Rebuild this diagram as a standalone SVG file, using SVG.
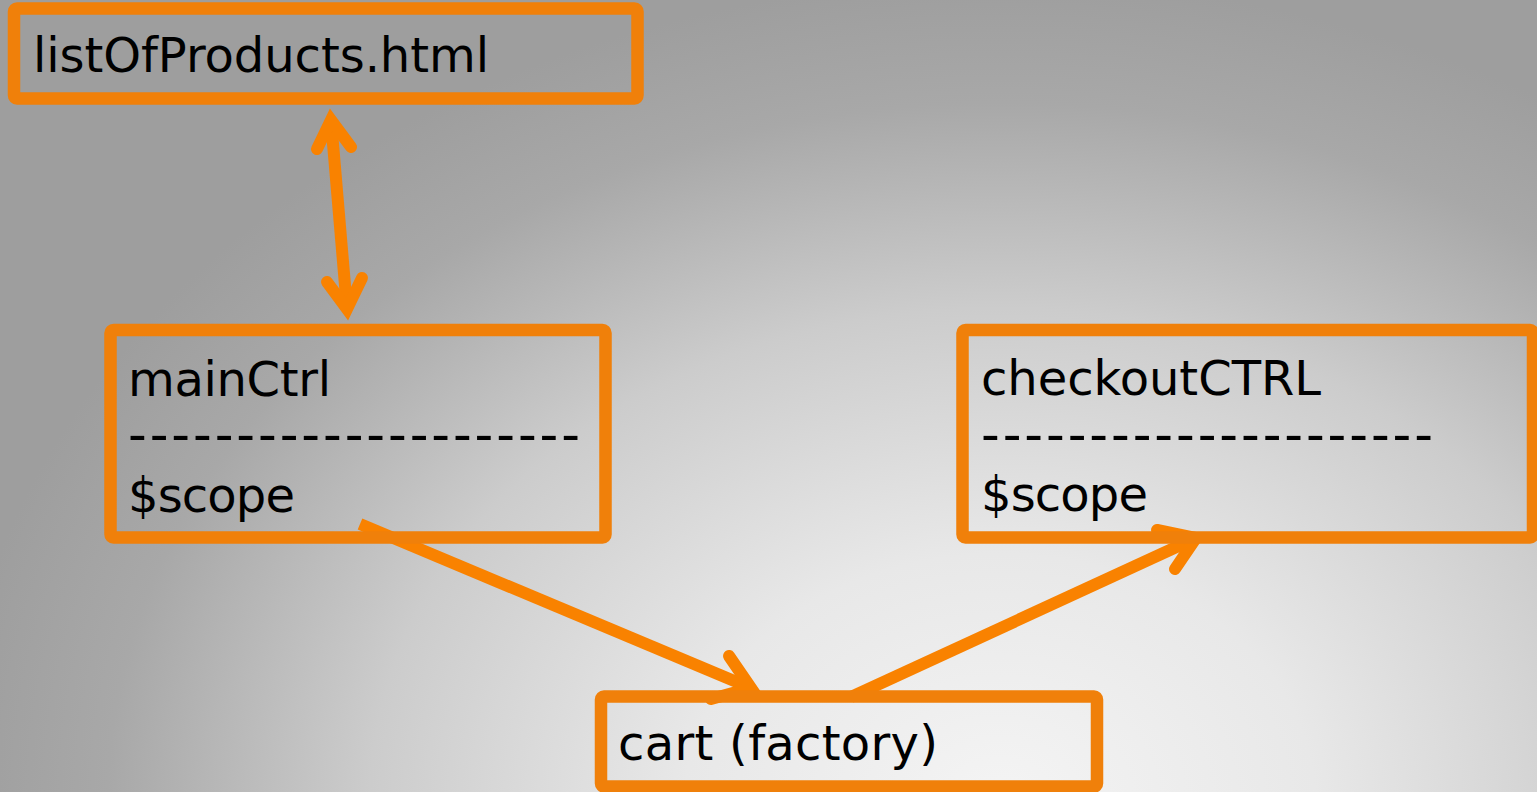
<svg xmlns="http://www.w3.org/2000/svg" width="1537" height="792" viewBox="0 0 1537 792">
  <defs>
    <radialGradient id="bg" gradientUnits="userSpaceOnUse" cx="1000" cy="800" r="820" gradientTransform="translate(1000 800) scale(1.28 1) translate(-1000 -800)">
      <stop offset="0" stop-color="#f4f4f4"/>
      <stop offset="0.3" stop-color="#e8e8e8"/>
      <stop offset="0.6" stop-color="#cccccc"/>
      <stop offset="0.85" stop-color="#a8a8a8"/>
      <stop offset="1" stop-color="#9e9e9e"/>
    </radialGradient>
    <style>
      .box { fill: none; stroke: #f0800a; stroke-width: 12.5; }
      .lbl { font-family: "DejaVu Sans", Verdana, sans-serif; font-size: 48px; fill: #000; }
      .dash { font-family: "DejaVu Sans", Verdana, sans-serif; font-size: 52px; fill: #000; letter-spacing: 2.9px; }
      .conn { fill: none; stroke: #f98200; stroke-width: 12; stroke-linecap: round; stroke-linejoin: miter; stroke-miterlimit: 10; }
      .shaft { fill: none; stroke: #f98200; stroke-width: 12; stroke-linecap: butt; }
    </style>
  </defs>
  <rect x="0" y="0" width="1537" height="792" fill="url(#bg)"/>

  <g id="connectors">
    <g id="c-list-main">
      <line class="shaft" x1="331" y1="120" x2="347" y2="309"/>
      <polyline class="conn" points="317,149 331,120 351,147"/>
      <polyline class="conn" points="327,282 347,309 362,278"/>
    </g>
    <g id="c-main-cart">
      <line class="shaft" x1="360" y1="524" x2="751" y2="688"/>
      <polyline class="conn" points="729,656 751,688 711,699"/>
    </g>
    <g id="c-cart-checkout">
      <line class="shaft" x1="851" y1="697" x2="1196" y2="538"/>
      <polyline class="conn" points="1157,530 1196,538 1175,569"/>
    </g>
  </g>

  <g id="node-listOfProducts">
    <rect class="box" x="14" y="8.5" width="623.5" height="90" rx="3"/>
    <text class="lbl" x="33" y="72" textLength="456">listOfProducts.html</text>
  </g>

  <g id="node-mainCtrl">
    <rect class="box" x="110.5" y="330" width="495" height="207.5" rx="3"/>
    <text class="lbl" x="128" y="396" textLength="203">mainCtrl</text>
    <text class="dash" x="128" y="451.5">---------------------</text>
    <text class="lbl" x="128" y="512" textLength="167">$scope</text>
  </g>

  <g id="node-checkoutCTRL">
    <rect class="box" x="962.5" y="330" width="570.5" height="207.5" rx="3"/>
    <text class="lbl" x="981" y="395" textLength="340">checkoutCTRL</text>
    <text class="dash" x="981" y="451.5">---------------------</text>
    <text class="lbl" x="981" y="511" textLength="167">$scope</text>
  </g>

  <g id="node-cart">
    <rect class="box" x="601" y="696.5" width="496" height="90" rx="3"/>
    <text class="lbl" x="618" y="760" textLength="320">cart (factory)</text>
  </g>
</svg>
